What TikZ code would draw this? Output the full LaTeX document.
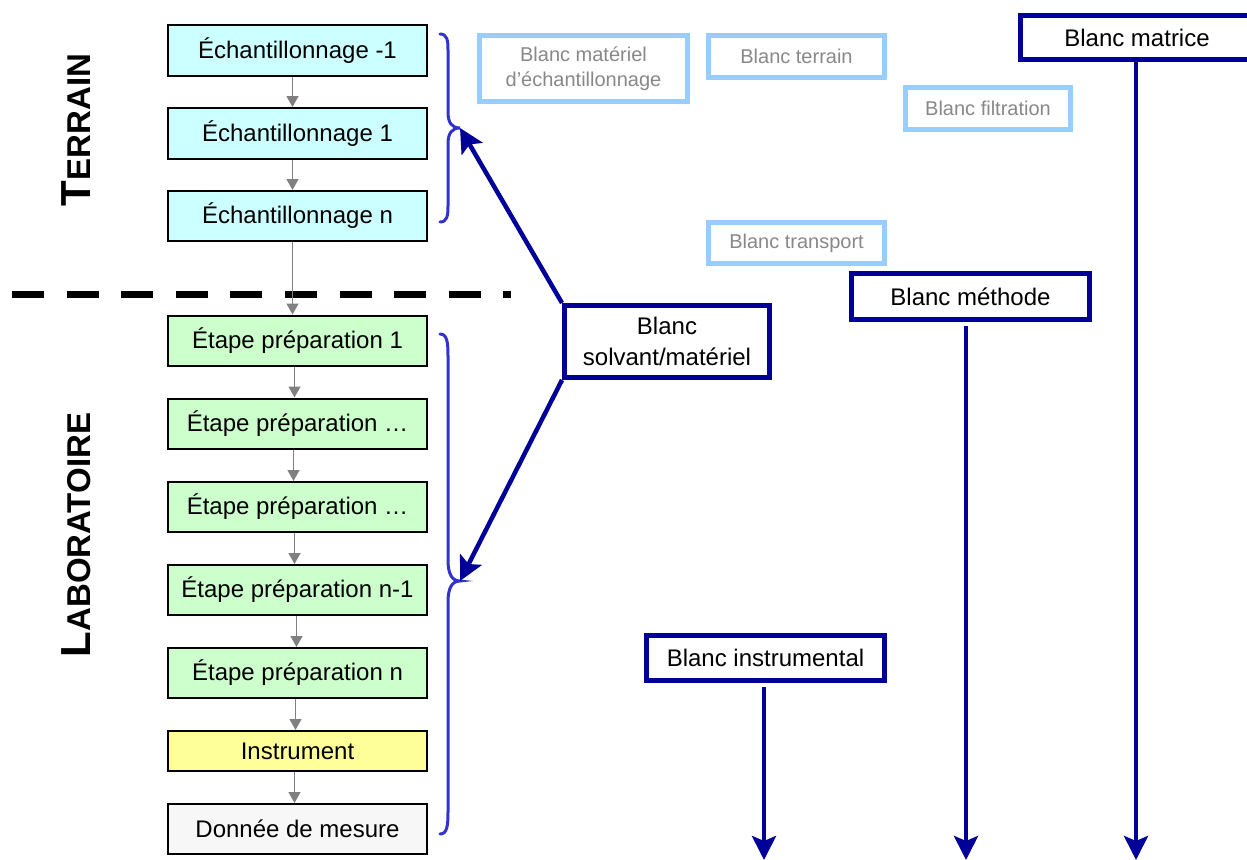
\documentclass[tikz,border=0pt]{standalone}
\usepackage{fontspec}
\setmainfont{Liberation Sans}
\usetikzlibrary{arrows.meta}
\definecolor{navy}{HTML}{000099}
\definecolor{lightblue}{HTML}{99CCFF}
\definecolor{bracecol}{HTML}{3333CC}
\definecolor{cyanfill}{HTML}{CCFFFF}
\definecolor{greenfill}{HTML}{CCFFCC}
\definecolor{yellowfill}{HTML}{FFFF99}
\definecolor{greyfill}{HTML}{F7F7F7}
\definecolor{greyline}{HTML}{808080}
\definecolor{greytext}{HTML}{888888}
\tikzset{
  leftbox/.style={draw=black, line width=2pt, minimum width=259pt, inner sep=0pt, font=\fontsize{24}{28}\selectfont},
  lightbox/.style={draw=lightblue, line width=4.5pt, text=greytext, inner sep=0pt, align=center, font=\fontsize{20}{25}\selectfont},
  darkbox/.style={draw=navy, line width=5pt, fill=white, inner sep=0pt, align=center, font=\fontsize{24}{31}\selectfont},
  garrow/.style={draw=greyline, line width=1.3pt, -{Triangle[length=11pt,width=12pt]}},
  narrow/.style={draw=navy, line width=4.5pt, -{Stealth[length=24pt,width=24pt,inset=5pt]}},
  bracestyle/.style={draw=bracecol, line width=3pt, line cap=round},
  sidetitle/.style={rotate=90, font=\bfseries, inner sep=0pt}
}
\begin{document}
\begin{tikzpicture}[x=1pt,y=-1pt]
\useasboundingbox (0,0) rectangle (1247,859);

% side titles
\node[sidetitle] (terrain) at (76,130) {\fontsize{42}{42}\selectfont T\fontsize{33}{33}\selectfont ERRAIN};
\node[sidetitle] (labo) at (76,535) {\fontsize{42}{42}\selectfont L\fontsize{33}{33}\selectfont ABORATOIRE};

% dashed separator
\coordinate (dashA) at (12,294);
\coordinate (dashB) at (511,294);
\draw[line width=7pt, dash pattern=on 32pt off 22.6pt] (dashA) -- (dashB);

% left column
\node[leftbox, fill=cyanfill, minimum height=51pt] (e0) at (297.5,50.5) {Échantillonnage -1};
\node[leftbox, fill=cyanfill, minimum height=51pt] (e1) at (297.5,133.5) {Échantillonnage 1};
\node[leftbox, fill=cyanfill, minimum height=50pt] (en) at (297.5,216) {Échantillonnage n};

\node[leftbox, fill=greenfill, minimum height=50pt] (p1) at (297.5,340.5) {Étape préparation 1};
\node[leftbox, fill=greenfill, minimum height=50pt] (p2) at (297.5,423.5) {Étape préparation …};
\node[leftbox, fill=greenfill, minimum height=50pt] (p3) at (297.5,507) {Étape préparation …};
\node[leftbox, fill=greenfill, minimum height=50pt] (p4) at (297.5,590) {Étape préparation n-1};
\node[leftbox, fill=greenfill, minimum height=50pt] (p5) at (297.5,673) {Étape préparation n};
\node[leftbox, fill=yellowfill, minimum height=40pt] (inst) at (297.5,751) {Instrument};
\node[leftbox, fill=greyfill, minimum height=50pt] (donnee) at (297.5,829) {Donnée de mesure};

\draw[garrow] ([xshift=-5pt]e0.south) -- ([xshift=-5pt]e1.north);
\draw[garrow] ([xshift=-5pt]e1.south) -- ([xshift=-5pt]en.north);
\draw[garrow] ([xshift=-5pt]en.south) -- ([xshift=-5pt]p1.north);
\draw[garrow] ([xshift=-3pt]p1.south) -- ([xshift=-3pt]p2.north);
\draw[garrow] ([xshift=-4pt]p2.south) -- ([xshift=-4pt]p3.north);
\draw[garrow] ([xshift=-3pt]p3.south) -- ([xshift=-3pt]p4.north);
\draw[garrow] ([xshift=-1pt]p4.south) -- ([xshift=-1pt]p5.north);
\draw[garrow] ([xshift=-2pt]p5.south) -- ([xshift=-2pt]inst.north);
\draw[garrow] ([xshift=-3pt]inst.south) -- ([xshift=-3pt]donnee.north);

% braces
\coordinate (tipT) at (460,128);
\coordinate (tipL) at (460,581);
\draw[bracestyle] (440,34) .. controls (447,34) and (448,40) .. (448,50) -- (448,112)
  .. controls (448,123) and (452,128) .. (tipT)
  .. controls (452,128) and (448,133) .. (448,144) -- (448,206)
  .. controls (448,216) and (447,222) .. (440,222);
\draw[bracestyle] (440,334) .. controls (447,334) and (448,342) .. (448,356) -- (448,560)
  .. controls (448,574) and (452,581) .. (tipL)
  .. controls (452,581) and (448,588) .. (448,602) -- (448,812)
  .. controls (448,826) and (447,834) .. (440,834);

% light blue blanks
\node[lightbox, minimum width=208pt, minimum height=66pt] (bmat) at (583.5,68.5) {Blanc matériel\\d’échantillonnage};
\node[lightbox, minimum width=176pt, minimum height=42pt] (bter) at (796.5,56.5) {Blanc terrain};
\node[lightbox, minimum width=165pt, minimum height=42pt] (bfil) at (988,108.5) {Blanc filtration};
\node[lightbox, minimum width=176pt, minimum height=41pt] (btra) at (796.5,243) {Blanc transport};

% dark blanks
\node[darkbox, minimum width=205pt, minimum height=72pt] (bsol) at (667,341.5) {Blanc\\solvant/matériel};
\node[darkbox, minimum width=233pt, minimum height=44pt] (bmatrice) at (1137,37.5) {Blanc matrice};
\node[darkbox, minimum width=238pt, minimum height=46pt] (bmeth) at (970.5,296.5) {Blanc méthode};
\node[darkbox, minimum width=238pt, minimum height=45pt] (binst) at (765.5,658) {Blanc instrumental};

% navy arrows
\draw[narrow] (bsol.north west) -- (tipT);
\draw[narrow] (bsol.south west) -- (tipL);

\coordinate (endI) at (764,860);
\coordinate (endM) at (966,860);
\coordinate (endX) at (1136,860);
\draw[narrow] (binst.south -| endI) ++(0,4) -- (endI);
\draw[narrow] (bmeth.south -| endM) ++(0,4) -- (endM);
\draw[narrow] (bmatrice.south -| endX) -- (endX);
\end{tikzpicture}
\end{document}
